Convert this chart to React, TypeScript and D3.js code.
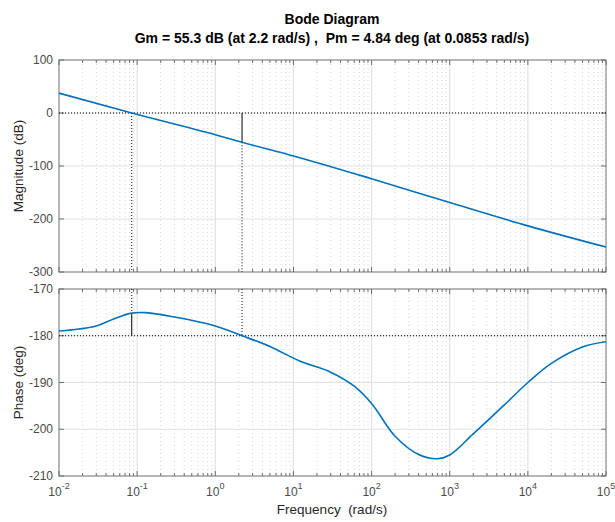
import React from 'react'
import * as d3 from 'd3'

// values
const magFreq = [0.01, 0.0853, 1, 2.2, 10, 100, 1000, 1e4, 1e5]
const magDb = [37.5, 0, -41, -55.3, -81, -124, -169, -213, -253]

const phaseFreq = [
	0.01, 0.03, 0.05, 0.0853, 0.13, 0.3, 1, 2.2, 5, 12, 30, 60, 100, 200, 400, 700, 1000, 2000,
	5000, 1e4, 2e4, 5e4, 1e5,
]
const phaseDeg = [
	-179.0, -177.9, -176.4, -175.16, -175.05, -176.0, -177.9, -180.0, -182.3, -185.4, -187.8,
	-190.8, -194.5, -201.5, -205.4, -206.3, -205.5, -201.0, -194.8, -190.0, -185.9, -182.4,
	-181.3,
]

const magTicks = [100, 0, -100, -200, -300]
const phaseTicks = [-170, -180, -190, -200, -210]
const decadeExps = [-2, -1, 0, 1, 2, 3, 4, 5]

// margins (from the title)
const gmFreq = 2.2
const gmDb = -55.3
const pmFreq = 0.0853
const pmDeg = -175.16

const FONT = '"Liberation Sans", Arial, Helvetica, sans-serif'
const BLUE = '#0072BD'
const AXIS = '#6e6e6e'

const App = () => {
	const width = 615,
		height = 522
	const left = 59,
		right = 606

	const x = d3.scaleLog().domain([1e-2, 1e5]).range([left, right])
	const yMag = d3.scaleLinear().domain([-300, 100]).range([272, 60])
	const yPh = d3.scaleLinear().domain([-210, -170]).range([476, 289])

	// minor positions 2..9 in each decade
	const minors: number[] = []
	for (let e = -2; e < 5; e++) {
		for (let m = 2; m <= 9; m++) minors.push(m * Math.pow(10, e))
	}

	const magLine = d3
		.line<number>()
		.x((d, i) => x(magFreq[i]))
		.y(d => yMag(d))
		.curve(d3.curveMonotoneX)
	const phLine = d3
		.line<number>()
		.x((d, i) => x(phaseFreq[i]))
		.y(d => yPh(d))
		.curve(d3.curveCatmullRom.alpha(0.5))

	const panel = (y: d3.ScaleLinear<number, number>, ticks: number[], key: string) => {
		const [y0, y1] = y.range() // bottom, top
		return (
			<g key={key}>
				{/* minor grid, dotted */}
				{minors.map(f => (
					<line
						key={'mg' + f}
						x1={x(f)}
						x2={x(f)}
						y1={y1}
						y2={y0}
						stroke="#d4d4d4"
						strokeWidth={1}
						strokeDasharray="1,3"
					/>
				))}
				{/* major grid */}
				{decadeExps.slice(1, -1).map(e => (
					<line
						key={'Mg' + e}
						x1={x(Math.pow(10, e))}
						x2={x(Math.pow(10, e))}
						y1={y1}
						y2={y0}
						stroke="#e2e2e2"
						strokeWidth={1.2}
					/>
				))}
				{ticks.slice(1, -1).map(t => (
					<line
						key={'Hg' + t}
						x1={left}
						x2={right}
						y1={y(t)}
						y2={y(t)}
						stroke="#e2e2e2"
						strokeWidth={1.2}
					/>
				))}
				{/* box */}
				<rect
					x={left}
					y={y1}
					width={right - left}
					height={y0 - y1}
					fill="none"
					stroke={AXIS}
					strokeWidth={1}
				/>
				{/* x ticks top & bottom */}
				{minors.map(f => (
					<g key={'mt' + f} stroke={AXIS}>
						<line x1={x(f)} x2={x(f)} y1={y0} y2={y0 - 3} />
						<line x1={x(f)} x2={x(f)} y1={y1} y2={y1 + 3} />
					</g>
				))}
				{decadeExps.map(e => (
					<g key={'Mt' + e} stroke={AXIS}>
						<line x1={x(Math.pow(10, e))} x2={x(Math.pow(10, e))} y1={y0} y2={y0 - 5} />
						<line x1={x(Math.pow(10, e))} x2={x(Math.pow(10, e))} y1={y1} y2={y1 + 5} />
					</g>
				))}
				{/* y ticks + labels */}
				{ticks.map(t => (
					<g key={'yt' + t}>
						<line x1={left} x2={left + 5} y1={y(t)} y2={y(t)} stroke={AXIS} />
						<line x1={right} x2={right - 5} y1={y(t)} y2={y(t)} stroke={AXIS} />
						<text
							x={left - 6}
							y={y(t)}
							dy="0.35em"
							textAnchor="end"
							fontSize={12}
							fill="#4a4a4a"
						>
							{t}
						</text>
					</g>
				))}
			</g>
		)
	}

	return (
		<svg
			width={width}
			height={height}
			style={{ position: 'absolute', left: 0, top: 0, background: '#fff' }}
			fontFamily={FONT}
		>
			<rect width={width} height={height} fill="#fff" />

			{panel(yMag, magTicks, 'mag')}
			{panel(yPh, phaseTicks, 'ph')}

			{/* reference lines 0 dB and -180 deg */}
			<line x1={left} x2={right} y1={yMag(0)} y2={yMag(0)} stroke="#000" strokeDasharray="1,2" />
			<line x1={left} x2={right} y1={yPh(-180)} y2={yPh(-180)} stroke="#000" strokeDasharray="1,2" />

			{/* gain margin markers */}
			<line x1={x(gmFreq)} x2={x(gmFreq)} y1={yMag(0)} y2={yMag(gmDb)} stroke="#000" />
			<line
				x1={x(gmFreq)}
				x2={x(gmFreq)}
				y1={yMag(gmDb)}
				y2={yMag(-300)}
				stroke="#000"
				strokeDasharray="1,2"
			/>
			<line
				x1={x(gmFreq)}
				x2={x(gmFreq)}
				y1={yPh(-170)}
				y2={yPh(-180)}
				stroke="#000"
				strokeDasharray="1,2"
			/>

			{/* phase margin markers */}
			<line
				x1={x(pmFreq)}
				x2={x(pmFreq)}
				y1={yMag(0)}
				y2={yMag(-300)}
				stroke="#000"
				strokeDasharray="1,2"
			/>
			<line
				x1={x(pmFreq)}
				x2={x(pmFreq)}
				y1={yPh(-170)}
				y2={yPh(pmDeg)}
				stroke="#000"
				strokeDasharray="1,2"
			/>
			<line x1={x(pmFreq)} x2={x(pmFreq)} y1={yPh(pmDeg)} y2={yPh(-180)} stroke="#000" />

			{/* responses */}
			<path d={magLine(magDb) || ''} fill="none" stroke={BLUE} strokeWidth={1.6} />
			<path d={phLine(phaseDeg) || ''} fill="none" stroke={BLUE} strokeWidth={1.6} />

			{/* x tick labels */}
			{decadeExps.map(e => (
				<text
					key={'xl' + e}
					x={x(Math.pow(10, e))}
					y={496}
					textAnchor="middle"
					fontSize={12}
					fill="#4a4a4a"
				>
					10
					<tspan dy={-7} fontSize={9}>
						{e}
					</tspan>
				</text>
			))}

			{/* labels */}
			<text
				x={332}
				y={514}
				textAnchor="middle"
				fontSize={13.5}
				fill="#262626"
				style={{ whiteSpace: 'pre' }}
			>
				{'Frequency  (rad/s)'}
			</text>
			<text
				transform={`translate(23,${(yMag(100) + yMag(-300)) / 2}) rotate(-90)`}
				textAnchor="middle"
				fontSize={13.5}
				fill="#262626"
			>
				Magnitude (dB)
			</text>
			<text
				transform={`translate(23,${(yPh(-170) + yPh(-210)) / 2}) rotate(-90)`}
				textAnchor="middle"
				fontSize={13.5}
				fill="#262626"
			>
				Phase (deg)
			</text>

			{/* title */}
			<text x={332} y={24} textAnchor="middle" fontSize={14} fontWeight="bold" fill="#000">
				Bode Diagram
			</text>
			<text
				x={332}
				y={43}
				textAnchor="middle"
				fontSize={14}
				fontWeight="bold"
				fill="#000"
				style={{ whiteSpace: 'pre' }}
			>
				{'Gm = 55.3 dB (at 2.2 rad/s) ,  Pm = 4.84 deg (at 0.0853 rad/s)'}
			</text>
		</svg>
	)
}

export default App
